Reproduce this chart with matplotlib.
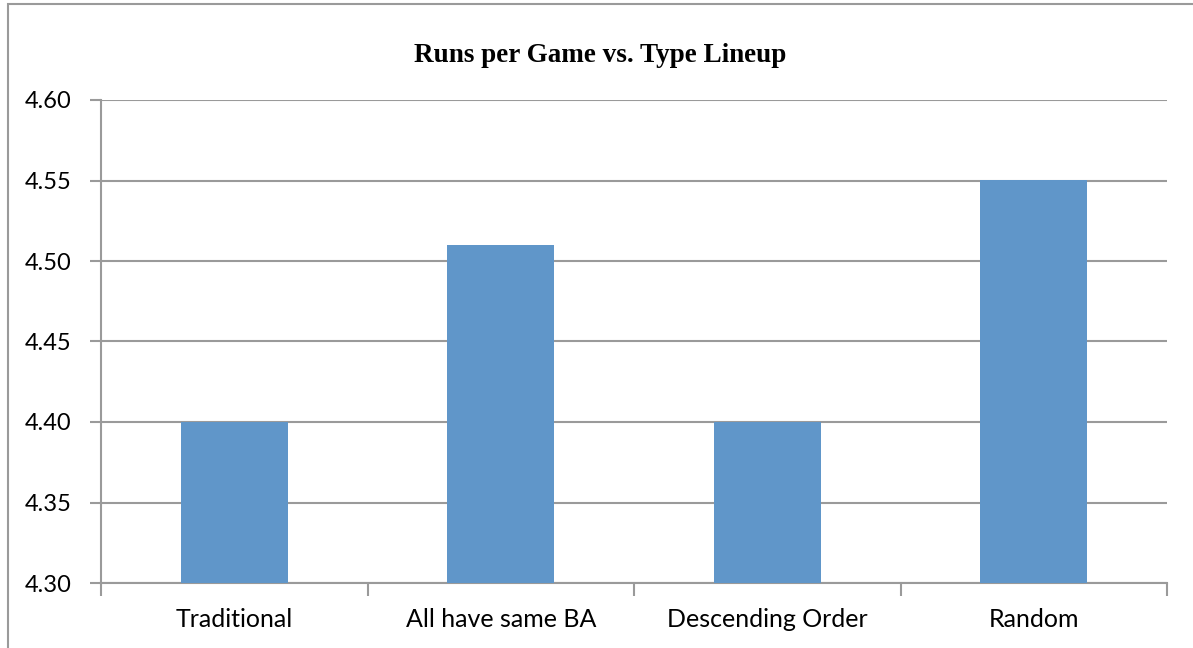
import numpy as np
import matplotlib.pyplot as plt
from matplotlib.patches import Rectangle

# data
lineups = ["Traditional", "All have same BA", "Descending Order", "Random"]
runs = [4.40, 4.51, 4.40, 4.55]
yticks = [4.30, 4.35, 4.40, 4.45, 4.50, 4.55, 4.60]

W, H = 1193, 648
fig = plt.figure(figsize=(W / 100, H / 100), dpi=100)

# outer chart border (left and top edges visible)
fig.add_artist(Rectangle((8 / W, -0.1), 1.2, 1 - 4 / H + 0.1, transform=fig.transFigure,
                         fill=False, edgecolor="#9a9a9a", linewidth=1.5))

ax = fig.add_axes([101 / W, 1 - 583 / H, (1167 - 101) / W, (583 - 100) / H])

x = np.arange(len(lineups))
ax.bar(x, [r - 4.30 for r in runs], bottom=4.30, width=0.4, color="#6096C9", zorder=3)

ax.set_xlim(-0.5, len(lineups) - 0.5)
ax.set_ylim(4.30, 4.60)
ax.set_yticks(yticks)
ax.set_yticklabels([f"{t:.2f}" for t in yticks], fontsize=17, family="Lato")
ax.yaxis.grid(True, color="#9a9a9a", linewidth=1.5, zorder=0)
ax.tick_params(axis="y", length=8, width=1.5, color="#9a9a9a", pad=13)

# category boundary ticks on x axis
ax.set_xticks(np.arange(len(lineups) + 1) - 0.5)
ax.set_xticklabels([])
ax.set_xticks(x, minor=True)
ax.set_xticklabels(lineups, minor=True, fontsize=18, family="Lato")
ax.tick_params(axis="x", which="major", length=9, width=1.5, color="#9a9a9a", direction="out")
ax.tick_params(axis="x", which="minor", length=0, pad=18)

for s in ["top", "right"]:
    ax.spines[s].set_visible(False)
for s in ["left", "bottom"]:
    ax.spines[s].set_color("#9a9a9a")
    ax.spines[s].set_linewidth(1.5)

fig.text(600 / W, 1 - 55 / H, "Runs per Game vs. Type Lineup", ha="center", va="center",
         fontsize=19.5, fontweight="bold", family="Liberation Serif")

fig.savefig("out.png", dpi=100)
